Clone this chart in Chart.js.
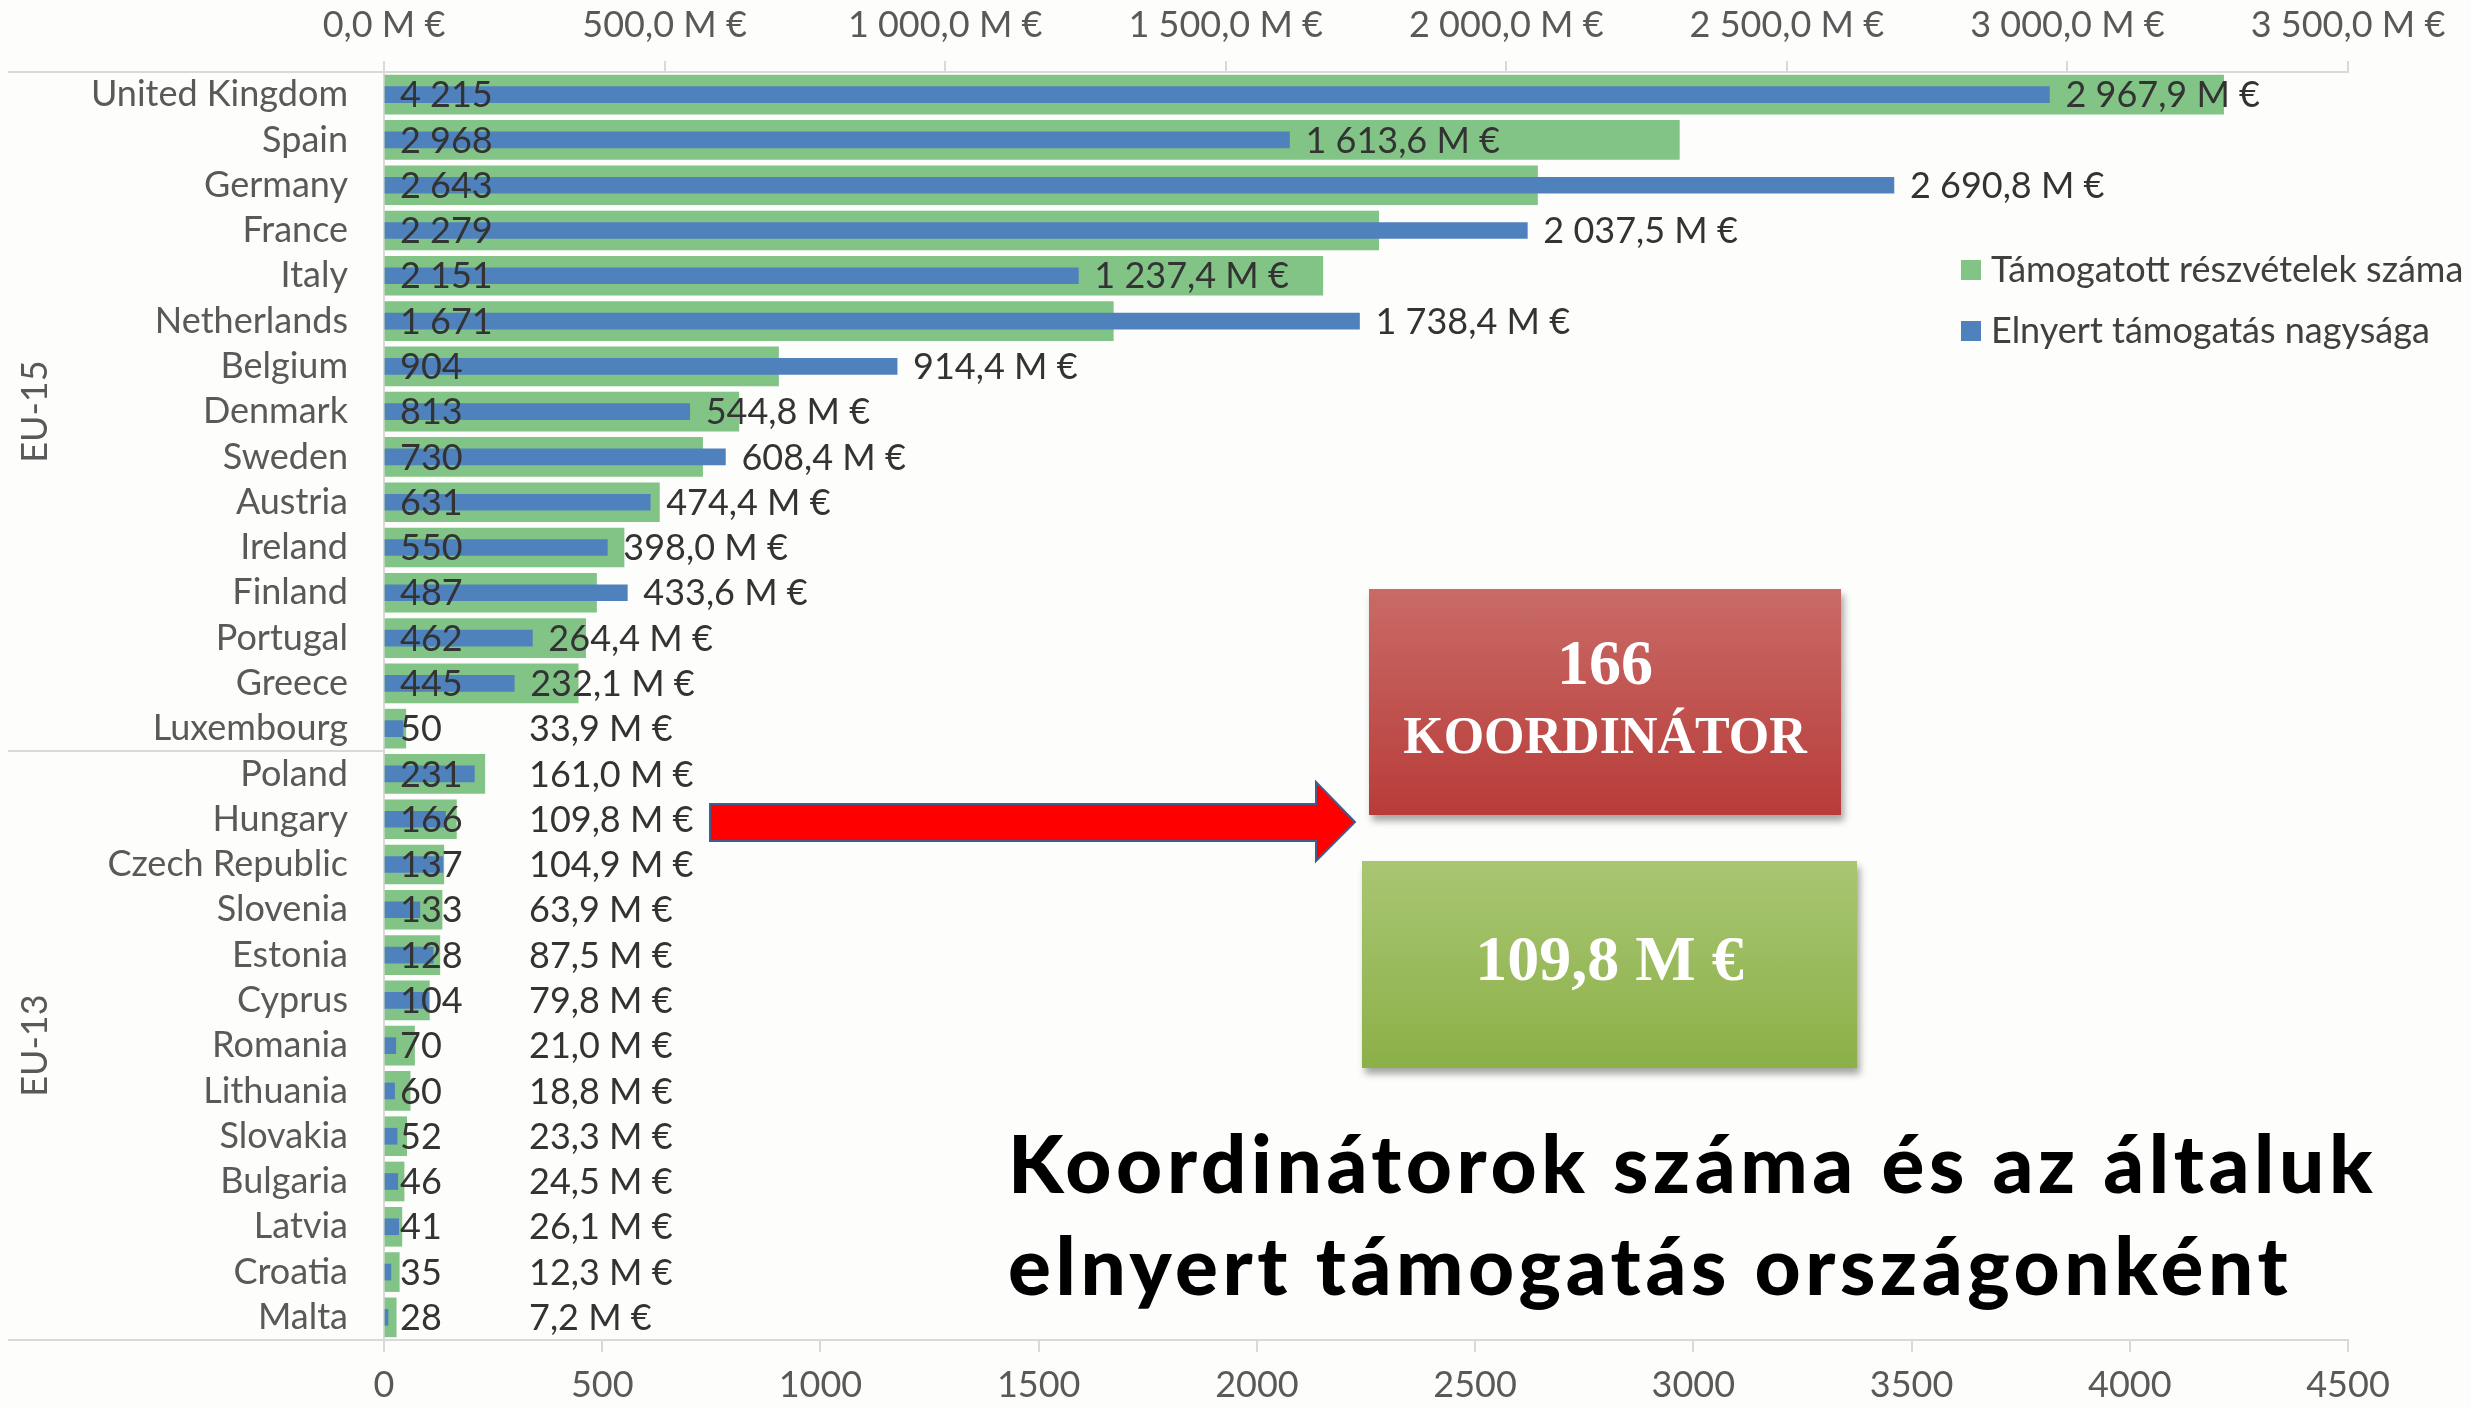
<!DOCTYPE html>
<html lang="hu">
<head>
<meta charset="utf-8">
<title>Koordinátorok száma és az általuk elnyert támogatás országonként</title>
<script src="https://cdn.jsdelivr.net/npm/chart.js@4.4.1/dist/chart.umd.min.js"></script>
<style>
  html, body { margin: 0; padding: 0; background: #fdfdfb; }
  #wrap { position: relative; width: 2471px; height: 1408px; overflow: hidden; font-family: Lato, sans-serif; }
  #chart-box { position: absolute; left: 0; top: 0; width: 2471px; height: 1408px; }
  .box { position: absolute; color: #fff; font-family: "Liberation Serif", serif; font-weight: bold; text-align: center; box-shadow: 3px 6px 7px rgba(0,0,0,0.35); }
  .box div { position: absolute; left: 0; right: 0; line-height: 1; }
  #box-red { left: 1369px; top: 589px; width: 472px; height: 226px; background: linear-gradient(#c96b67, #b83c39); }
  #box-green { left: 1362px; top: 861px; width: 495px; height: 207px; background: linear-gradient(#a8c672, #8cb048); }
  #arrow { position: absolute; left: 0; top: 0; pointer-events: none; }
  #title { position: absolute; left: 1008px; top: 1111px; font-family: Lato, sans-serif; font-weight: 900; font-size: 80px; line-height: 102px; letter-spacing: 4.6px; color: #000; white-space: nowrap; }
</style>
</head>
<body>
<div id="wrap">
  <div id="chart-box"><canvas id="chart"></canvas></div>
  <svg id="arrow" width="2471" height="1408">
    <polygon points="710,804 1316,804 1316,782 1355,822 1316,861 1316,841 710,841" fill="#ff0000" stroke="#3d5f8f" stroke-width="2"/>
  </svg>
  <div class="box" id="box-red">
    <div style="top:42px;font-size:64px">166</div>
    <div style="top:121px;font-size:52px">KOORDINÁTOR</div>
  </div>
  <div class="box" id="box-green">
    <div style="top:66px;font-size:64px">109,8 M €</div>
  </div>
  <div id="title">Koordinátorok száma és az általuk<br>elnyert támogatás országonként</div>
</div>
<script>
// országok, felülről lefelé
const countries = ['United Kingdom', 'Spain', 'Germany', 'France', 'Italy', 'Netherlands', 'Belgium', 'Denmark', 'Sweden', 'Austria', 'Ireland', 'Finland', 'Portugal', 'Greece', 'Luxembourg',
  'Poland', 'Hungary', 'Czech Republic', 'Slovenia', 'Estonia', 'Cyprus', 'Romania', 'Lithuania', 'Slovakia', 'Bulgaria', 'Latvia', 'Croatia', 'Malta'];
const participations = [4215, 2968, 2643, 2279, 2151, 1671, 904, 813, 730, 631, 550, 487, 462, 445, 50,
  231, 166, 137, 133, 128, 104, 70, 60, 52, 46, 41, 35, 28];
const fundingMEUR = [2967.9, 1613.6, 2690.8, 2037.5, 1237.4, 1738.4, 914.4, 544.8, 608.4, 474.4, 398.0, 433.6, 264.4, 232.1, 33.9,
  161.0, 109.8, 104.9, 63.9, 87.5, 79.8, 21.0, 18.8, 23.3, 24.5, 26.1, 12.3, 7.2];
const groupNames = ['EU-15', 'EU-13'];
const groupSizes = [15, 13];
const countTickLabels = ['0', '500', '1000', '1500', '2000', '2500', '3000', '3500', '4000', '4500'];
const fundingTickLabels = ['0,0 M €', '500,0 M €', '1 000,0 M €', '1 500,0 M €', '2 000,0 M €', '2 500,0 M €', '3 000,0 M €', '3 500,0 M €'];

const GREEN = '#82c386';
const BLUE = '#4f81bd';
const AXIS = '#d9d9d9';
const FONT = 'Lato, sans-serif';

function fmtInt(n) {
  return String(n).replace(/\B(?=(\d{3})+(?!\d))/g, ' ');
}
function fmtMeur(v) {
  const parts = v.toFixed(1).split('.');
  return fmtInt(parts[0]) + ',' + parts[1] + ' M €';
}

// címkék a sávokon
const barLabels = {
  id: 'barLabels',
  afterDatasetsDraw(chart) {
    const { ctx } = chart;
    const xc = chart.scales.xCount, xf = chart.scales.xFunding, y = chart.scales.y;
    ctx.save();
    ctx.font = '36px ' + FONT;
    ctx.fillStyle = '#333333';
    ctx.textBaseline = 'middle';
    ctx.textAlign = 'left';
    countries.forEach((c, i) => {
      const yy = y.getPixelForValue(i) + 1;
      ctx.fillText(fmtInt(participations[i]), xc.getPixelForValue(0) + 16, yy);
      const xEnd = xf.getPixelForValue(fundingMEUR[i]);
      ctx.fillText(fmtMeur(fundingMEUR[i]), Math.max(xEnd + 16, xf.left + 145), yy);
    });
    ctx.restore();
  }
};

// EU-15 / EU-13 csoportok a bal oldalon
const groupAxis = {
  id: 'groupAxis',
  afterDraw(chart) {
    const { ctx, chartArea } = chart;
    const y = chart.scales.y;
    const step = y.getPixelForValue(1) - y.getPixelForValue(0);
    ctx.save();
    ctx.strokeStyle = AXIS;
    ctx.lineWidth = 2;
    let start = 0;
    const lines = [chartArea.top];
    groupNames.forEach((name, g) => {
      const end = start + groupSizes[g];
      const top = y.getPixelForValue(start) - step / 2;
      const bottom = y.getPixelForValue(end - 1) + step / 2;
      lines.push(bottom);
      ctx.save();
      ctx.translate(35, (top + bottom) / 2);
      ctx.rotate(-Math.PI / 2);
      ctx.font = '36px ' + FONT;
      ctx.fillStyle = '#595959';
      ctx.textAlign = 'center';
      ctx.textBaseline = 'middle';
      ctx.fillText(name, 0, 0);
      ctx.restore();
      start = end;
    });
    lines.forEach(ly => {
      ctx.beginPath();
      ctx.moveTo(8, Math.round(ly));
      ctx.lineTo(chartArea.left, Math.round(ly));
      ctx.stroke();
    });
    ctx.restore();
  }
};

// jelmagyarázat a diagram jobb oldalán
const sideLegend = {
  id: 'sideLegend',
  afterDraw(chart) {
    const { ctx } = chart;
    const items = chart.data.datasets.slice().reverse();
    ctx.save();
    ctx.font = '36px ' + FONT;
    ctx.textBaseline = 'middle';
    ctx.textAlign = 'left';
    items.forEach((ds, i) => {
      const cy = 270 + i * 61;
      ctx.fillStyle = ds.backgroundColor;
      ctx.fillRect(1961, cy - 10, 20, 20);
      ctx.fillStyle = '#404040';
      ctx.fillText(ds.label, 1991, cy);
    });
    ctx.restore();
  }
};

const ctx = document.getElementById('chart').getContext('2d');
new Chart(ctx, {
  type: 'bar',
  data: {
    labels: countries,
    datasets: [
      {
        label: 'Elnyert támogatás nagysága',
        data: fundingMEUR,
        xAxisID: 'xFunding',
        backgroundColor: BLUE,
        barThickness: 16,
        grouped: false,
        order: 0
      },
      {
        label: 'Támogatott részvételek száma',
        data: participations,
        xAxisID: 'xCount',
        backgroundColor: GREEN,
        barThickness: 39,
        grouped: false,
        order: 1
      }
    ]
  },
  options: {
    indexAxis: 'y',
    responsive: true,
    maintainAspectRatio: false,
    animation: false,
    layout: { padding: { left: 0, right: 123, top: 0, bottom: 0 } },
    plugins: {
      legend: { display: false },
      tooltip: { enabled: false }
    },
    scales: {
      y: {
        type: 'category',
        afterFit(s) { s.width = 384; },
        grid: { display: true, drawOnChartArea: false, drawTicks: false },
        border: { display: true, color: AXIS, width: 2 },
        ticks: { autoSkip: false, padding: 36, color: '#595959', font: { family: FONT, size: 36 } }
      },
      xCount: {
        position: 'bottom',
        min: 0,
        max: 4500,
        afterFit(s) { s.height = 68; },
        afterBuildTicks(s) { s.ticks = countTickLabels.map((t, i) => ({ value: i * 500 })); },
        grid: { display: true, drawOnChartArea: false, drawTicks: true, tickLength: 12, color: AXIS, lineWidth: 2 },
        border: { display: true, color: AXIS, width: 2 },
        ticks: {
          padding: 12,
          maxRotation: 0,
          autoSkip: false,
          color: '#595959',
          font: { family: FONT, size: 36 },
          callback: (v, i) => countTickLabels[i]
        }
      },
      xFunding: {
        position: 'top',
        min: 0,
        max: 3500,
        afterFit(s) { s.height = 72; },
        afterBuildTicks(s) { s.ticks = fundingTickLabels.map((t, i) => ({ value: i * 500 })); },
        grid: { display: true, drawOnChartArea: false, drawTicks: true, tickLength: 11, color: AXIS, lineWidth: 2 },
        border: { display: true, color: AXIS, width: 2 },
        ticks: {
          padding: 14,
          maxRotation: 0,
          autoSkip: false,
          color: '#595959',
          font: { family: FONT, size: 36 },
          callback: (v, i) => fundingTickLabels[i]
        }
      }
    }
  },
  plugins: [barLabels, groupAxis, sideLegend]
});
</script>
</body>
</html>
